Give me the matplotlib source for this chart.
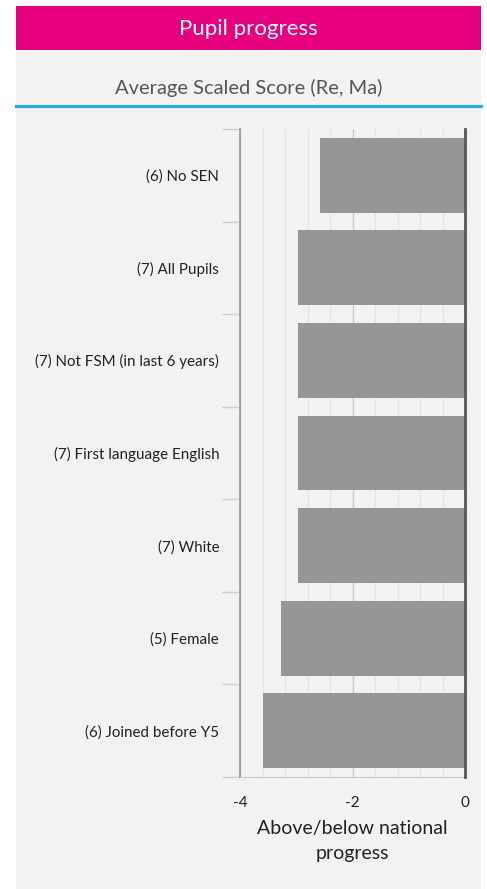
import matplotlib
matplotlib.use("Agg")
import matplotlib.pyplot as plt
from matplotlib.patches import Rectangle
from matplotlib.lines import Line2D
from matplotlib.ticker import MultipleLocator
import numpy as np

plt.rcParams['font.family'] = ['Lato', 'DejaVu Sans']

categories = ["(6) No SEN", "(7) All Pupils", "(7) Not FSM (in last 6 years)",
              "(7) First language English", "(7) White", "(5) Female",
              "(6) Joined before Y5"]
values = [-2.58, -2.97, -2.97, -2.97, -2.97, -3.27, -3.6]
xticks = [-4, -2, 0]
title = "Pupil progress"
subtitle = "Average Scaled Score (Re, Ma)"
xlabel = "Above/below national\nprogress"

W, H = 487, 889
fig = plt.figure(figsize=(W / 100, H / 100), dpi=100)
fig.patch.set_facecolor("white")

def fx(x): return x / W
def fy(y): return 1 - y / H

# gray panel
fig.add_artist(Rectangle((fx(16), 0), fx(481) - fx(16), fy(50), transform=fig.transFigure,
                         facecolor="#f2f2f2", edgecolor="none", zorder=0))
# pink header
fig.add_artist(Rectangle((fx(16), fy(50)), fx(481) - fx(16), fy(6) - fy(50), transform=fig.transFigure,
                         facecolor="#e6007e", edgecolor="none", zorder=0))
# blue line
fig.add_artist(Line2D([fx(16), fx(481)], [fy(105.5), fy(105.5)], transform=fig.transFigure,
                      color="#29abe2", linewidth=2.3, zorder=1))
fig.text(fx(248.5), fy(29), title, ha="center", va="center", color="white", fontsize=16)
fig.text(fx(248.5), fy(88), subtitle, ha="center", va="center", color="#555555", fontsize=14.5)

ax = fig.add_axes([fx(240), fy(777), fx(465) - fx(240), (777 - 129) / H])
ax.set_facecolor("#f2f2f2")
y = np.arange(len(categories))
ax.barh(y, values, height=0.81, color="#969696", zorder=3)
ax.set_ylim(len(categories) - 0.5, -0.5)
ax.set_xlim(-4, 0)
ax.set_xticks(xticks)
ax.set_xticklabels([str(t) for t in xticks], fontsize=11, color="#222222")
ax.xaxis.set_minor_locator(MultipleLocator(0.4))
ax.grid(axis="x", which="minor", color="#e4e4e4", linewidth=0.8, zorder=0)
ax.grid(axis="x", which="major", color="#cccccc", linewidth=1.0, zorder=0)
ax.tick_params(axis="x", which="both", length=0, pad=14)

ax.set_yticks(y)
ax.set_yticklabels(categories, fontsize=10.9, color="#222222")
ax.tick_params(axis="y", which="major", length=0, pad=15)
ax.set_yticks(np.arange(-0.5, len(categories) + 0.5, 1), minor=True)
ax.tick_params(axis="y", which="minor", length=13, color="#d0d0d0", width=1)

ax.spines["top"].set_visible(False)
ax.spines["left"].set_color("#999999")
ax.spines["left"].set_linewidth(1.2)
ax.spines["bottom"].set_color("#cccccc")
ax.spines["right"].set_color("#555555")
ax.spines["right"].set_linewidth(2)
ax.spines["right"].set_zorder(4)

ax.set_xlabel(xlabel, fontsize=14, color="#222222", labelpad=7, linespacing=1.55)

fig.savefig("out.png", dpi=100)
